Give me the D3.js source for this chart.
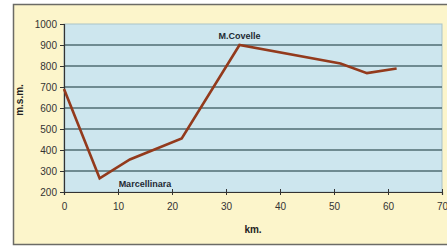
<!DOCTYPE html>
<html>
<head>
<meta charset="utf-8">
<script src="https://cdn.jsdelivr.net/npm/d3@7"></script>
<style>
  body { margin: 0; background: #fff; }
  svg text { font-family: "Liberation Sans Narrow", "Liberation Sans", Arial, sans-serif; }
</style>
</head>
<body>
<div id="chart"></div>
<script>
// profile: km along route vs altitude (m.s.m.)
const km = [0, 6.6, 12.2, 21.8, 32.5, 51.2, 56.1, 61.6]
const alt = [690, 265, 355, 455, 900, 812, 766, 788]
const xTicks = [0, 10, 20, 30, 40, 50, 60, 70]
const yTicks = [200, 300, 400, 500, 600, 700, 800, 900, 1000]
const places = [
  { name: "M.Covelle", km: 32.5, alt: 900 },
  { name: "Marcellinara", km: 6.6, alt: 265 }
]

const W = 447, H = 247
const MARGIN = { TOP: 24, BOTTOM: 55, LEFT: 64, RIGHT: 5 }
const WIDTH = W - MARGIN.LEFT - MARGIN.RIGHT
const HEIGHT = H - MARGIN.TOP - MARGIN.BOTTOM

const svg = d3.select("#chart").append("svg")
  .attr("width", W)
  .attr("height", H)

// outer frame
svg.append("rect")
  .attr("x", 13.5).attr("y", 4.5)
  .attr("width", 440).attr("height", 240)
  .attr("fill", "#fcf5cb")
  .attr("stroke", "#6b6b66")
  .attr("stroke-width", 1.5)

const g = svg.append("g")
  .attr("transform", `translate(${MARGIN.LEFT},${MARGIN.TOP})`)

const x = d3.scaleLinear().domain([0, 70]).range([0, 378])
const y = d3.scaleLinear().domain([200, 1000]).range([HEIGHT, 0])

g.append("rect")
  .attr("width", x(70)).attr("height", HEIGHT)
  .attr("fill", "#cde6ee")
  .attr("stroke", "#a9c3c8")

// gridlines
g.selectAll(".grid").data(yTicks.slice(1, -1))
  .enter().append("line")
  .attr("x1", 0).attr("x2", x(70))
  .attr("y1", d => y(d)).attr("y2", d => y(d))
  .attr("stroke", "#4f6c72")
  .attr("stroke-width", 1.6)

const xAxis = g.append("g")
  .attr("transform", `translate(0,${HEIGHT})`)
  .call(d3.axisBottom(x).tickValues(xTicks).tickSize(3).tickFormat(d3.format("d")))
const yAxis = g.append("g")
  .call(d3.axisLeft(y).tickValues(yTicks).tickSize(4).tickFormat(d3.format("d")))

;[xAxis, yAxis].forEach(a => {
  a.select(".domain").attr("stroke", "#333").attr("stroke-width", 1.2)
  a.selectAll(".tick line").attr("stroke", "#333")
  a.selectAll("text").attr("fill", "#333").attr("font-size", 10)
})
xAxis.selectAll(".tick line").attr("y1", -3)
xAxis.selectAll("text").attr("dy", "1.2em")

const line = d3.line()
  .x((d, i) => x(km[i]))
  .y(d => y(d))
g.append("path")
  .datum(alt)
  .attr("d", line)
  .attr("fill", "none")
  .attr("stroke", "#933a1c")
  .attr("stroke-width", 2.6)
  .attr("stroke-linejoin", "miter")

// place labels
g.append("text")
  .attr("x", x(places[0].km))
  .attr("y", y(places[0].alt) - 6)
  .attr("text-anchor", "middle")
  .attr("font-size", 9).attr("font-weight", "bold")
  .attr("fill", "#1e2a33")
  .text(places[0].name)
g.append("text")
  .attr("x", x(places[1].km) + 19)
  .attr("y", y(places[1].alt) + 9)
  .attr("font-size", 9).attr("font-weight", "bold")
  .attr("fill", "#1e2a33")
  .text(places[1].name)

// axis titles
svg.append("text")
  .attr("x", 253).attr("y", 233)
  .attr("text-anchor", "middle")
  .attr("font-size", 10).attr("font-weight", "bold")
  .attr("fill", "#222")
  .text("km.")
svg.append("text")
  .attr("transform", "translate(23,100) rotate(-90)")
  .attr("text-anchor", "middle")
  .attr("font-size", 10).attr("font-weight", "bold")
  .attr("fill", "#222")
  .text("m.s.m.")
</script>
</body>
</html>
